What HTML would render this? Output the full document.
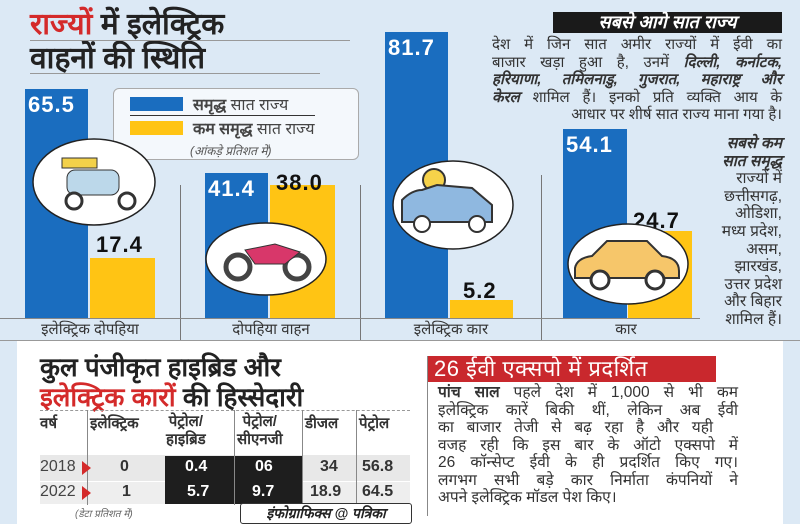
<!DOCTYPE html>
<html><head><meta charset="utf-8"><style>
body{margin:0;width:800px;height:524px;overflow:hidden;background:#fff;font-family:"Liberation Sans","Noto Sans CJK SC",sans-serif;position:relative}
.a{position:absolute}
.hi{font-family:"Liberation Sans","Noto Sans CJK SC","WenQuanYi Zen Hei",sans-serif}
.b{background:#1a6dbf}.y{background:#ffc414}
.num{font-weight:bold;font-size:22px;font-family:"Liberation Sans",sans-serif;letter-spacing:1px}
.cat{font-size:15px;color:#333;text-align:center;top:319px}
.j{text-align:justify;text-align-last:justify;white-space:nowrap;height:17.5px}
</style></head><body>
<div class="a" style="left:0;top:0;width:800px;height:340px;background:#dce9f5"></div>
<div class="a hi" style="left:30px;top:8px;font-size:30px;font-weight:bold;color:#222;line-height:34px">
<span style="color:#d42a2a">राज्यों</span> में इलेक्ट्रिक<br>वाहनों की स्थिति</div>
<div class="a" style="left:30px;top:40px;width:320px;height:1px;background:#999"></div>
<div class="a" style="left:30px;top:73px;width:290px;height:1px;background:#999"></div>
<div class="a" style="left:180px;top:185px;width:1px;height:155px;background:#777"></div>
<div class="a" style="left:360px;top:185px;width:1px;height:155px;background:#777"></div>
<div class="a" style="left:541px;top:175px;width:1px;height:165px;background:#777"></div>
<div class="a" style="left:0;top:318px;width:700px;height:1px;background:#888"></div>
<div class="a b" style="left:25px;top:89px;width:63px;height:229px"></div>
<div class="a y" style="left:90px;top:258px;width:65px;height:60px"></div>
<div class="a b" style="left:205px;top:173px;width:63px;height:145px"></div>
<div class="a y" style="left:270px;top:185px;width:65px;height:133px"></div>
<div class="a b" style="left:385px;top:32px;width:63px;height:286px"></div>
<div class="a y" style="left:450px;top:300px;width:63px;height:18px"></div>
<div class="a b" style="left:563px;top:129px;width:64px;height:189px"></div>
<div class="a y" style="left:628px;top:231px;width:64px;height:87px"></div>
<div class="a num" style="left:28px;top:92px;color:#fff">65.5</div>
<div class="a num" style="left:96px;top:232px;color:#111">17.4</div>
<div class="a num" style="left:208px;top:176px;color:#fff">41.4</div>
<div class="a num" style="left:276px;top:170px;color:#111">38.0</div>
<div class="a num" style="left:388px;top:35px;color:#fff">81.7</div>
<div class="a num" style="left:463px;top:278px;color:#111">5.2</div>
<div class="a num" style="left:566px;top:132px;color:#fff">54.1</div>
<div class="a num" style="left:633px;top:208px;color:#111">24.7</div>
<div class="a cat hi" style="left:0;width:180px">इलेक्ट्रिक दोपहिया</div>
<div class="a cat hi" style="left:181px;width:180px">दोपहिया वाहन</div>
<div class="a cat hi" style="left:361px;width:180px">इलेक्ट्रिक कार</div>
<div class="a cat hi" style="left:541px;width:170px">कार</div>
<div class="a" style="left:113px;top:88px;width:244px;height:70px;background:#f4f8fc;border:1px solid #aaa;border-radius:6px"></div>
<div class="a b" style="left:130px;top:97px;width:53px;height:14px"></div>
<div class="a y" style="left:130px;top:121px;width:53px;height:14px"></div>
<div class="a" style="left:130px;top:115px;width:185px;height:1px;background:#333"></div>
<div class="a hi" style="left:193px;top:93px;font-size:16px;color:#444"><b>समृद्ध</b> सात राज्य</div>
<div class="a hi" style="left:193px;top:117px;font-size:16px;color:#444"><b>कम समृद्ध</b> सात राज्य</div>
<div class="a hi" style="left:190px;top:142px;font-size:12px;color:#555;font-style:italic">(आंकड़े प्रतिशत में)</div>
<svg class="a" style="left:32px;top:138px" width="124" height="88"><ellipse cx="62" cy="44" rx="61" ry="43" fill="#fff" stroke="#222" stroke-width="1.5"/>
<rect x="35" y="32" width="52" height="25" rx="8" fill="#bcd8ea" stroke="#333"/><circle cx="42" cy="63" r="8" fill="#fff" stroke="#333" stroke-width="3"/><circle cx="95" cy="63" r="8" fill="#fff" stroke="#333" stroke-width="3"/><rect x="30" y="20" width="35" height="10" fill="#f3d14a" stroke="#333"/></svg>
<svg class="a" style="left:205px;top:222px" width="122" height="75"><ellipse cx="61" cy="37" rx="60" ry="36" fill="#fff" stroke="#222" stroke-width="1.5"/>
<circle cx="33" cy="45" r="12" fill="#fff" stroke="#444" stroke-width="5"/><circle cx="92" cy="45" r="12" fill="#fff" stroke="#444" stroke-width="5"/><path d="M40 28 L70 22 L95 30 L80 42 L50 42 Z" fill="#d8376a" stroke="#333"/></svg>
<svg class="a" style="left:392px;top:160px" width="122" height="90"><ellipse cx="61" cy="45" rx="60" ry="44" fill="#fff" stroke="#222" stroke-width="1.5"/>
<circle cx="42" cy="20" r="11" fill="#f6d24a" stroke="#333" stroke-width="2"/><path d="M10 40 Q20 30 30 30 L45 25 L80 28 L100 45 L100 62 L10 62 Z" fill="#8fb8e0" stroke="#333" stroke-width="2"/><circle cx="30" cy="64" r="8" fill="#fff" stroke="#333" stroke-width="2"/><circle cx="85" cy="64" r="8" fill="#fff" stroke="#333" stroke-width="2"/></svg>
<svg class="a" style="left:567px;top:223px" width="122" height="82"><ellipse cx="61" cy="41" rx="60" ry="40" fill="#fff" stroke="#222" stroke-width="1.5"/>
<path d="M8 45 Q10 35 25 33 L40 18 L80 18 L95 33 Q112 35 112 48 L112 55 L8 55 Z" fill="#f6c66a" stroke="#333" stroke-width="2"/><circle cx="33" cy="57" r="9" fill="#fff" stroke="#333" stroke-width="3"/><circle cx="88" cy="57" r="9" fill="#fff" stroke="#333" stroke-width="3"/></svg>
<div class="a hi" style="left:553px;top:12px;width:229px;height:21px;background:#1a1a1a;color:#fff;font-size:18px;font-weight:bold;text-align:center;line-height:21px;font-style:italic">सबसे आगे सात राज्य</div>
<div class="a hi" style="left:492px;top:36px;width:290px;font-size:15px;line-height:17.5px;color:#333">
<div class="j">देश में जिन सात अमीर राज्यों में ईवी का</div>
<div class="j">बाजार खड़ा हुआ है, उनमें <b><i>दिल्ली, कर्नाटक,</i></b></div>
<div class="j"><b><i>हरियाणा, तमिलनाडु, गुजरात, महाराष्ट्र और</i></b></div>
<div class="j"><b><i>केरल</i></b> शामिल हैं। इनको प्रति व्यक्ति आय के</div>
<div style="text-align:right;white-space:nowrap">आधार पर शीर्ष सात राज्य माना गया है।</div>
</div>
<div class="a hi" style="left:690px;top:135px;width:92px;font-size:15.5px;line-height:17.6px;color:#333;text-align:right;white-space:nowrap"><b><i>सबसे कम<br>सात समृद्ध</i></b><br>राज्यों में<br>छत्तीसगढ़,<br>ओडिशा,<br>मध्य प्रदेश,<br>असम,<br>झारखंड,<br>उत्तर प्रदेश<br>और बिहार<br>शामिल हैं।</div>
<div class="a" style="left:0;top:340px;width:800px;height:1px;background:#999"></div>
<div class="a" style="left:0;top:341px;width:17px;height:183px;background:#dce9f5"></div>
<div class="a" style="left:783px;top:341px;width:17px;height:183px;background:#dce9f5"></div>
<div class="a hi" style="left:40px;top:352px;font-size:26px;font-weight:bold;color:#222;line-height:30px">कुल पंजीकृत हाइब्रिड और<br><span style="color:#d42a2a">इलेक्ट्रिक कारों</span> की हिस्सेदारी</div>
<div class="a" style="left:40px;top:410px;width:370px;border-top:1px dashed #999"></div>
<div class="a" style="left:40px;top:455px;width:370px;height:26px;background:#e8e8e8"></div>
<div class="a" style="left:40px;top:482px;width:370px;height:22px;background:#eeeeee"></div>
<div class="a" style="left:165px;top:456px;width:137px;height:48px;background:#1e1e1e"></div>
<div class="a hi" style="left:40px;top:413px;font-size:15px;font-weight:bold;color:#333">वर्ष</div>
<div class="a hi" style="left:90px;top:413px;font-size:15px;font-weight:bold;color:#333">इलेक्ट्रिक</div>
<div class="a hi" style="left:166px;top:413px;font-size:15px;font-weight:bold;color:#333;text-align:center;line-height:18px">पेट्रोल/<br>हाइब्रिड</div>
<div class="a hi" style="left:237px;top:413px;font-size:15px;font-weight:bold;color:#333;text-align:center;line-height:18px">पेट्रोल/<br>सीएनजी</div>
<div class="a hi" style="left:305px;top:413px;font-size:15px;font-weight:bold;color:#333">डीजल</div>
<div class="a hi" style="left:359px;top:413px;font-size:15px;font-weight:bold;color:#333">पेट्रोल</div>
<div class="a" style="left:87px;top:410px;width:1px;height:95px;background:#888"></div>
<div class="a" style="left:302px;top:410px;width:1px;height:95px;background:#888"></div>
<div class="a" style="left:356px;top:410px;width:1px;height:95px;background:#888"></div>
<div class="a" style="left:234px;top:410px;width:1px;height:95px;background:#888"></div>
<div class="a" style="left:40px;top:458px;font-size:16px;color:#444">2018</div>
<div class="a" style="left:40px;top:483px;font-size:16px;color:#444">2022</div>
<div class="a" style="left:82px;top:461px;width:0;height:0;border-left:9px solid #d42a2a;border-top:7px solid transparent;border-bottom:7px solid transparent"></div>
<div class="a" style="left:82px;top:486px;width:0;height:0;border-left:9px solid #d42a2a;border-top:7px solid transparent;border-bottom:7px solid transparent"></div>
<div class="a" style="left:120px;top:458px;font-size:16px;font-weight:bold;color:#333">0</div>
<div class="a" style="left:122px;top:483px;font-size:16px;font-weight:bold;color:#333">1</div>
<div class="a" style="left:185px;top:458px;font-size:16px;font-weight:bold;color:#fff">0.4</div>
<div class="a" style="left:187px;top:483px;font-size:16px;font-weight:bold;color:#fff">5.7</div>
<div class="a" style="left:255px;top:458px;font-size:16px;font-weight:bold;color:#fff">06</div>
<div class="a" style="left:252px;top:483px;font-size:16px;font-weight:bold;color:#fff">9.7</div>
<div class="a" style="left:320px;top:458px;font-size:16px;font-weight:bold;color:#333">34</div>
<div class="a" style="left:310px;top:483px;font-size:16px;font-weight:bold;color:#333">18.9</div>
<div class="a" style="left:362px;top:458px;font-size:16px;font-weight:bold;color:#333">56.8</div>
<div class="a" style="left:362px;top:483px;font-size:16px;font-weight:bold;color:#333">64.5</div>
<div class="a hi" style="left:75px;top:506px;font-size:10px;color:#666;font-style:italic">(डेटा प्रतिशत में)</div>
<div class="a hi" style="left:240px;top:503px;width:170px;height:19px;border:1px solid #333;border-radius:3px;background:#fff;font-size:14px;font-weight:bold;font-style:italic;text-align:center;line-height:19px;color:#222">इंफोग्राफिक्स @ पत्रिका</div>
<div class="a" style="left:427px;top:356px;width:1px;height:160px;background:#888"></div>
<div class="a hi" style="left:428px;top:356px;width:288px;height:26px;background:#c9282d;color:#fff;font-size:22px;line-height:26px;padding-left:6px;box-sizing:border-box;letter-spacing:0.5px">26 ईवी एक्सपो में प्रदर्शित</div>
<div class="a hi" style="left:438px;top:384px;width:300px;font-size:15.5px;line-height:17.6px;color:#333">
<div class="j"><b>पांच साल</b> पहले देश में 1,000 से भी कम</div>
<div class="j">इलेक्ट्रिक कारें बिकी थीं, लेकिन अब ईवी</div>
<div class="j" style="width:275px">का बाजार तेजी से बढ़ रहा है और यही</div>
<div class="j">वजह रही कि इस बार के ऑटो एक्सपो में</div>
<div class="j">26 कॉन्सेप्ट ईवी के ही प्रदर्शित किए गए।</div>
<div class="j">लगभग सभी बड़े कार निर्माता कंपनियों ने</div>
<div style="white-space:nowrap">अपने इलेक्ट्रिक मॉडल पेश किए।</div>
</div>
</body></html>
